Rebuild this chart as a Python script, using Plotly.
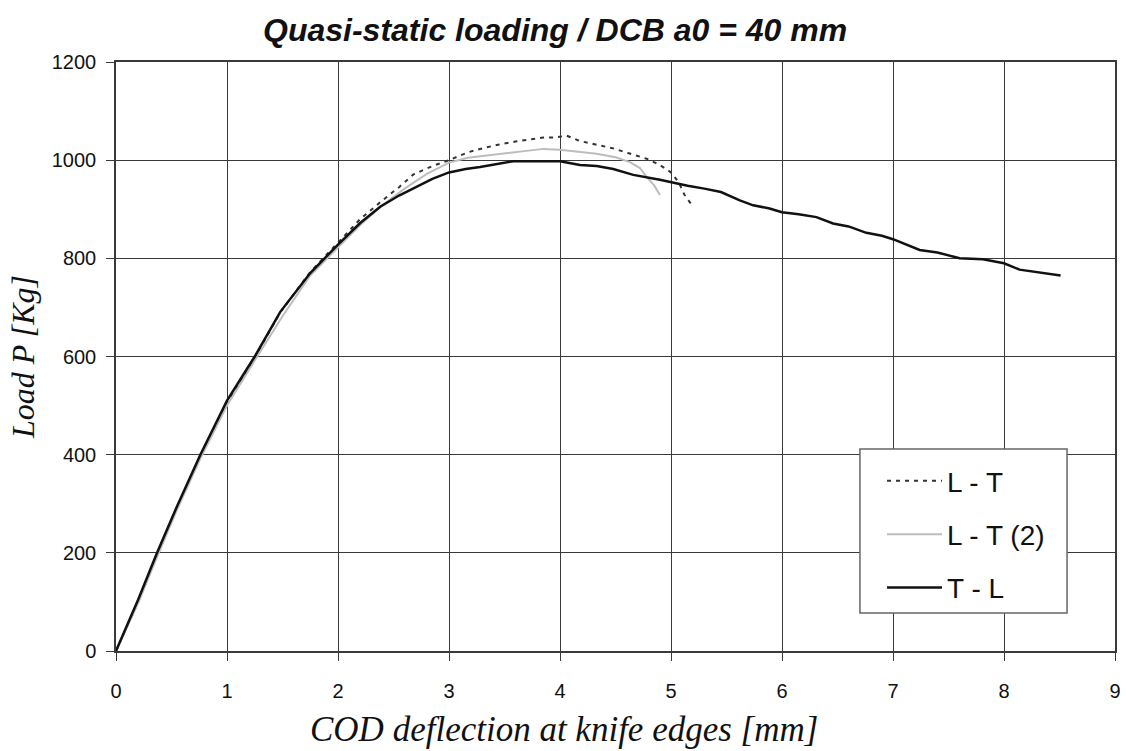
import plotly.graph_objects as go

# ---- data ----
tl_x = [0.0, 0.2, 0.37, 0.55, 0.76, 1.0, 1.25, 1.48, 1.75, 2.0, 2.2, 2.38, 2.55, 2.7, 2.85,
        3.0, 3.15, 3.28, 3.45, 3.58, 3.75, 3.9, 4.0, 4.18, 4.33, 4.48, 4.66, 4.9, 5.0, 5.15,
        5.3, 5.45, 5.62, 5.74, 5.88, 6.0, 6.15, 6.31, 6.46, 6.6, 6.76, 6.9, 7.0, 7.12, 7.24,
        7.4, 7.6, 7.81, 8.0, 8.14, 8.3, 8.51]
tl_y = [0, 105, 200, 295, 400, 510, 600, 691, 770, 828, 872, 905, 928, 945, 962,
        975, 982, 986, 993, 998, 998, 998, 998, 990, 988, 982, 970, 960, 955, 948,
        942, 935, 918, 908, 902, 894, 890, 884, 871, 865, 852, 846, 839, 828, 817,
        812, 800, 798, 790, 777, 772, 765]

lt_x = [0.0, 0.2, 0.37, 0.55, 0.76, 1.0, 1.25, 1.48, 1.75, 2.0, 2.2, 2.4, 2.55, 2.68, 2.85,
        3.0, 3.17, 3.3, 3.43, 3.6, 3.75, 3.85, 3.95, 4.06, 4.18, 4.33, 4.48, 4.62, 4.78, 4.9,
        5.0, 5.07, 5.12, 5.2]
lt_y = [0, 100, 195, 292, 398, 505, 598, 690, 772, 832, 880, 918, 945, 971, 988,
        1000, 1016, 1024, 1031, 1038, 1043, 1046, 1046, 1050, 1039, 1032, 1024, 1014, 1003, 990,
        975, 955, 930, 905]

lt2_x = [0.0, 0.2, 0.37, 0.55, 0.76, 1.0, 1.25, 1.5, 1.75, 2.0, 2.2, 2.4, 2.6, 2.8, 3.0,
         3.17, 3.35, 3.58, 3.75, 3.85, 4.0, 4.15, 4.33, 4.5, 4.63, 4.72, 4.78, 4.85, 4.9]
lt2_y = [0, 98, 192, 288, 392, 500, 592, 682, 765, 822, 868, 908, 942, 972, 995,
         1005, 1010, 1016, 1020, 1023, 1021, 1018, 1013, 1006, 996, 984, 966, 948, 929]

series = [
    ("L - T", lt_x, lt_y, dict(color="#333333", width=2, dash="4px,5px")),
    ("L - T (2)", lt2_x, lt2_y, dict(color="#bdbdbd", width=2)),
    ("T - L", tl_x, tl_y, dict(color="#111111", width=2.5)),
]

x_ticks = [0, 1, 2, 3, 4, 5, 6, 7, 8, 9]
y_ticks = [0, 200, 400, 600, 800, 1000, 1200]

fig = go.Figure()
for i, (name, xs, ys, ln) in enumerate(series):
    fig.add_trace(go.Scatter(x=xs, y=ys, mode="lines", name=name, line=ln,
                             legendgroup=f"g{i}"))

grid_col = "#3a3a3a"
fig.update_layout(
    width=1126, height=751,
    margin=dict(l=116, r=11, t=62, b=100, autoexpand=False),
    paper_bgcolor="white", plot_bgcolor="white",
    title=dict(text="<b><i>Quasi-static loading / DCB a0 = 40 mm</i></b>",
               x=0.493, xanchor="center", y=0.96, yanchor="middle",
               font=dict(family="Liberation Sans, Arial", size=32, color="#111")),
    xaxis=dict(range=[0, 9], tickvals=x_ticks, showgrid=True, gridcolor=grid_col, gridwidth=1.3,
               zeroline=False, showline=True, linecolor=grid_col, linewidth=1.5,
               ticks="outside", ticklen=8, tickcolor=grid_col, ticklabelstandoff=13,
               tickfont=dict(family="Liberation Sans, Arial", size=20, color="#111"),
               mirror=True, automargin=False),
    yaxis=dict(range=[0, 1200], tickvals=y_ticks, showgrid=True, gridcolor=grid_col, gridwidth=1.3,
               zeroline=False, showline=True, linecolor=grid_col, linewidth=1.5,
               ticks="outside", ticklen=8, tickcolor=grid_col, ticklabelstandoff=6,
               tickfont=dict(family="Liberation Sans, Arial", size=20, color="#111"),
               title=dict(text="<i>Load P [Kg]</i>", standoff=8,
                          font=dict(family="Liberation Serif, Times New Roman", size=32, color="#111")),
               mirror=True, automargin=False),
    legend=dict(x=0.7668, y=0.331, xanchor="left", yanchor="top",
                bgcolor="rgba(0,0,0,0)", borderwidth=0,
                font=dict(family="Liberation Sans, Arial", size=28, color="#111"),
                itemwidth=55, tracegroupgap=14, traceorder="grouped"),
    showlegend=True,
    shapes=[dict(type="rect", xref="paper", yref="paper", x0=0.7447, x1=0.952,
                 y0=0.0645, y1=0.343, fillcolor="white",
                 line=dict(color="#666666", width=1.5), layer="above")],
    annotations=[dict(text="<i>COD deflection at knife edges [mm]</i>", xref="paper", yref="paper",
                      x=0.4484, y=-0.134, xanchor="center", yanchor="middle", showarrow=False,
                      font=dict(family="Liberation Serif, Times New Roman", size=35, color="#111"))],
)

fig.write_html("out.html")
